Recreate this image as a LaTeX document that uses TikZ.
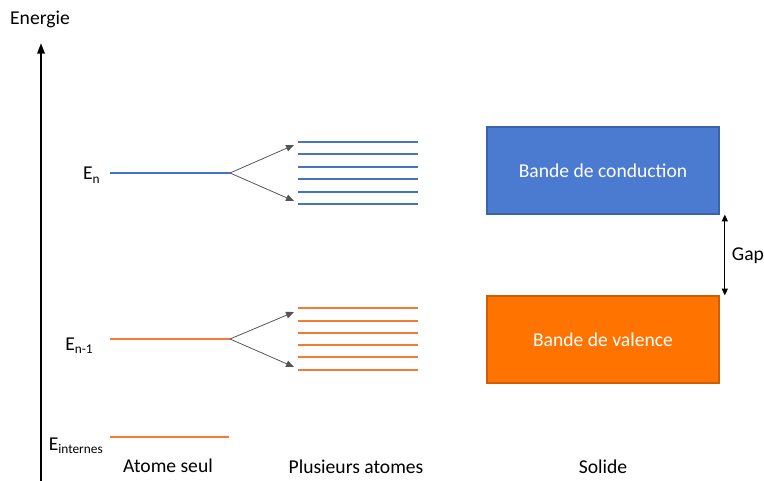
\documentclass[tikz,border=0pt]{standalone}
\usepackage{fontspec}
\setmainfont{Carlito}
\usetikzlibrary{arrows.meta}
\definecolor{lvlblue}{HTML}{4472C4}
\definecolor{lvlorange}{HTML}{F47A35}
\definecolor{boxblue}{HTML}{4A7BD0}
\definecolor{boxblueedge}{HTML}{3A63A8}
\definecolor{boxorange}{HTML}{FF7300}
\definecolor{boxorangeedge}{HTML}{D05E00}
\definecolor{splitgray}{HTML}{555555}
\tikzset{
  txt/.style={font=\fontsize{14.7}{17}\selectfont, inner sep=0pt},
  lvl/.style={line width=1.4pt},
  blvl/.style={line width=1.2pt, lvlblue},
  olvl/.style={line width=1.2pt, lvlorange},
  split/.style={line width=0.6pt, splitgray, -{Triangle[length=6pt,width=5pt]}},
  band/.style={txt, text=white, minimum width=174pt, minimum height=65pt, line width=1.2pt},
  gaparrow/.style={line width=0.9pt, {Triangle[length=5pt,width=4.5pt]}-{Triangle[length=5pt,width=4.5pt]}}
}
\begin{document}
\begin{tikzpicture}[x=0.75pt,y=-0.75pt]
\useasboundingbox (0,0) rectangle (764,481);
% axis
\coordinate (axb) at (41,481);
\coordinate (axt) at (41,43);
\draw[line width=1.6pt,-{Triangle[length=8pt,width=5.5pt]}] (axb) -- (axt);
\node[txt] (energie) at (40,19) {Energie};

% E_n
\node[txt, anchor=base east] (lEn) at (100,180) {E\raisebox{-0.35ex}{\fontsize{10}{12}\selectfont n}};
\coordinate (en0) at (110,173);
\coordinate (en1) at (230,173);
\draw[lvl, lvlblue] (en0) -- (en1);
\coordinate (enu) at (294,145);
\coordinate (end) at (294,201);
\draw[split] (en1) -- (enu);
\draw[split] (en1) -- (end);
\foreach \y [count=\i] in {142,154,167,179,192,204}{
  \coordinate (bl\i a) at (298,\y);
  \coordinate (bl\i b) at (418,\y);
  \draw[blvl] (bl\i a) -- (bl\i b);
}

% E_{n-1}
\node[txt, anchor=base east] (lEn1) at (93,350) {E\raisebox{-0.35ex}{\fontsize{10}{12}\selectfont n-1}};
\coordinate (em0) at (110,339);
\coordinate (em1) at (230,339);
\draw[lvl, lvlorange] (em0) -- (em1);
\coordinate (emu) at (294,312);
\coordinate (emd) at (294,367);
\draw[split] (em1) -- (emu);
\draw[split] (em1) -- (emd);
\foreach \y [count=\i] in {308,321,333,345,357,370}{
  \coordinate (ol\i a) at (298,\y);
  \coordinate (ol\i b) at (418,\y);
  \draw[olvl] (ol\i a) -- (ol\i b);
}

% E_internes
\node[txt, anchor=base east] (lEi) at (103,450) {E\raisebox{-0.35ex}{\fontsize{10}{12}\selectfont internes}};
\coordinate (ei0) at (110,437);
\coordinate (ei1) at (229,437);
\draw[line width=1pt, lvlorange] (ei0) -- (ei1);

% bands
\node[band, fill=boxblue, draw=boxblueedge] (cond) at (603,170.5) {Bande de conduction};
\node[band, fill=boxorange, draw=boxorangeedge] (val) at (603,339.5) {Bande de valence};
\coordinate (gt) at ([xshift=3.75pt]cond.south east);
\coordinate (gb) at ([xshift=3.75pt]val.north east);
\draw[gaparrow] (gt) -- (gb);
\node[txt] (gap) at (748,256) {Gap};

% column labels
\node[txt] (c1) at (168,466) {Atome seul};
\node[txt] (c2) at (356,467) {Plusieurs atomes};
\node[txt] (c3) at (603,467) {Solide};
\end{tikzpicture}
\end{document}
